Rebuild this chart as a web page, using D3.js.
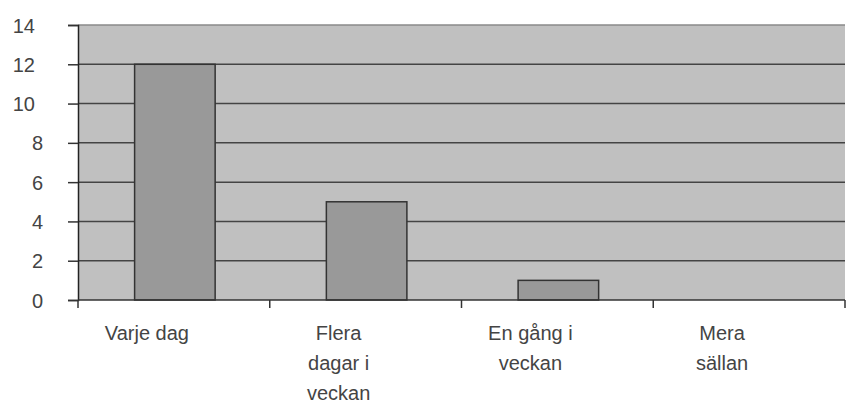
<!DOCTYPE html>
<html>
<head>
<meta charset="utf-8">
<script src="https://cdn.jsdelivr.net/npm/d3@7"></script>
<style>
  html, body { margin: 0; padding: 0; background: #ffffff; }
  svg { display: block; }
  text { font-family: Arial, "Liberation Sans", sans-serif; fill: #444444; }
</style>
</head>
<body>
<svg id="chart" width="853" height="403"></svg>
<script>
// Hur ofta – antal svar per kategori
const categories = ["Varje dag", "Flera dagar i veckan", "En gång i veckan", "Mera sällan"];
const categoryLines = [["Varje dag"], ["Flera", "dagar i", "veckan"], ["En gång i", "veckan"], ["Mera", "sällan"]];
const values = [12, 5, 1, 0];
const yTicks = [0, 2, 4, 6, 8, 10, 12, 14];

const svg = d3.select("#chart");
const plot = { left: 78, right: 845, top: 25, bottom: 300 };

const x = d3.scaleBand()
  .domain(categories)
  .range([plot.left, plot.right])
  .paddingInner(0.58)
  .paddingOuter(0.29);

const y = d3.scaleLinear()
  .domain([0, 14])
  .range([plot.bottom, plot.top]);

// plot area background
svg.append("rect")
  .attr("x", plot.left).attr("y", plot.top)
  .attr("width", plot.right - plot.left).attr("height", plot.bottom - plot.top)
  .attr("fill", "#c0c0c0");

// horizontal gridlines
svg.append("g")
  .selectAll("line")
  .data(yTicks.filter(d => d > 0))
  .join("line")
  .attr("x1", plot.left).attr("x2", plot.right)
  .attr("y1", d => y(d)).attr("y2", d => y(d))
  .attr("stroke", d => d === 14 ? "#8a8a8a" : "#444444")
  .attr("stroke-width", 1.5);

// bars
svg.append("g")
  .selectAll("rect")
  .data(values.map((v, i) => ({ c: categories[i], v })).filter(d => d.v > 0))
  .join("rect")
  .attr("x", d => x(d.c) + 1)
  .attr("y", d => y(d.v))
  .attr("width", x.bandwidth())
  .attr("height", d => y(0) - y(d.v))
  .attr("fill", "#999999")
  .attr("stroke", "#333333")
  .attr("stroke-width", 1.5);

// y axis
const yAxis = svg.append("g")
  .attr("transform", `translate(${plot.left},0)`)
  .call(d3.axisLeft(y).tickValues(yTicks).tickSize(10).tickPadding(0).tickFormat(d3.format("d")));
yAxis.select(".domain").attr("stroke", "#222222").attr("stroke-width", 1.5);
yAxis.selectAll(".tick line").attr("stroke", "#333333").attr("stroke-width", 1.5);
yAxis.selectAll(".tick text")
  .attr("font-size", 20)
  .attr("font-family", "Arial, 'Liberation Sans', sans-serif")
  .attr("fill", "#444444")
  .attr("dy", "0.35em")
  .attr("x", d => String(d).length > 1 ? -43 : -35);

// x axis line with ticks at category boundaries
const boundaries = categories.map(c => x(c) - x.step() * x.paddingOuter()).concat([plot.right]);
svg.append("line")
  .attr("x1", plot.left).attr("x2", plot.right)
  .attr("y1", plot.bottom).attr("y2", plot.bottom)
  .attr("stroke", "#333333").attr("stroke-width", 1.5);
svg.append("g")
  .selectAll("line")
  .data(boundaries)
  .join("line")
  .attr("x1", d => d).attr("x2", d => d)
  .attr("y1", plot.bottom).attr("y2", plot.bottom + 8)
  .attr("stroke", "#333333").attr("stroke-width", 1.5);

// wrapped category labels
const labels = svg.append("g")
  .selectAll("text")
  .data(categories)
  .join("text")
  .attr("font-size", 20)
  .attr("fill", "#444444")
  .attr("text-anchor", "middle")
  .attr("x", d => x(d) + x.bandwidth() / 2 - 27)
  .attr("y", 340);
labels.selectAll("tspan")
  .data((d, i) => categoryLines[i])
  .join("tspan")
  .attr("x", function () { return this.parentNode.getAttribute("x"); })
  .attr("dy", (d, i) => i === 0 ? 0 : 30)
  .text(d => d);
</script>
</body>
</html>
